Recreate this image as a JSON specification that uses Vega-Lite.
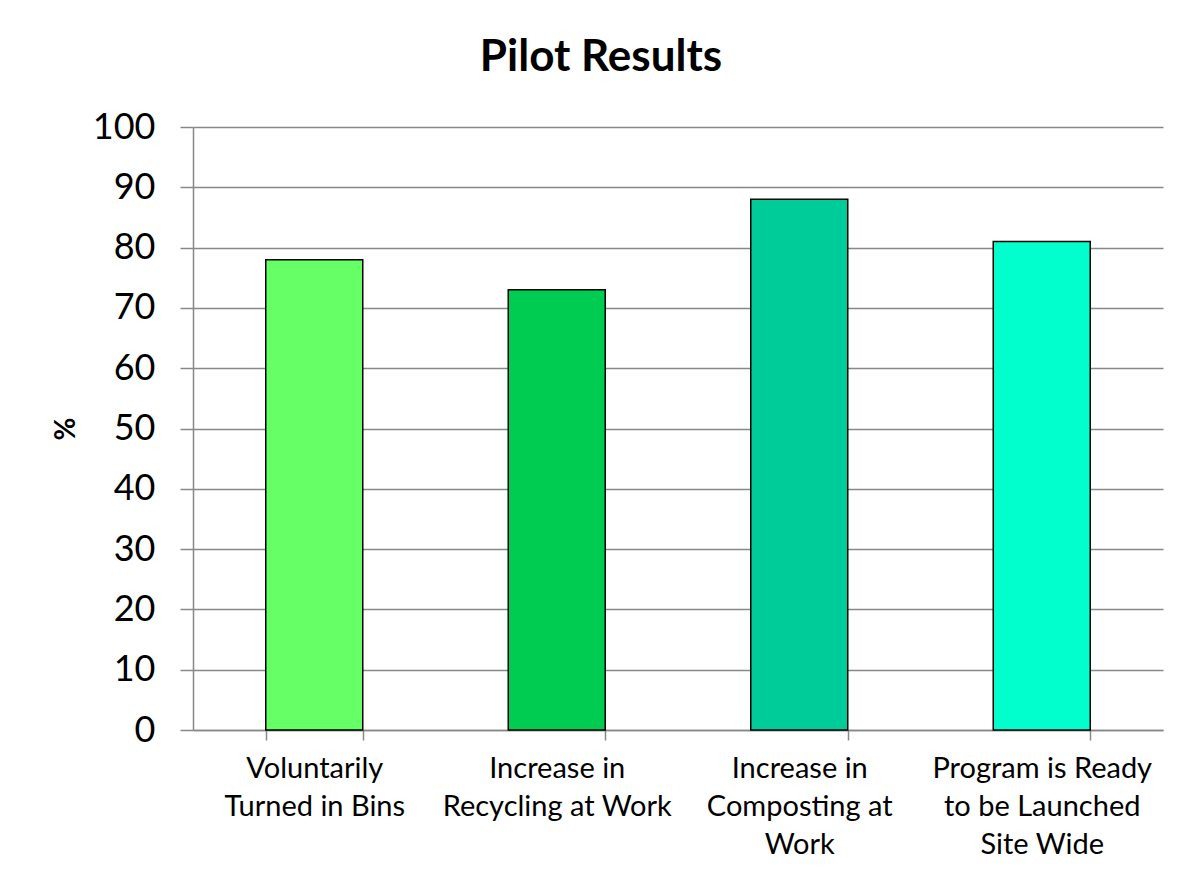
{
  "$schema": "https://vega.github.io/schema/vega-lite/v6.json",
  "autosize": {"type": "none"},
  "padding": {"left": 193, "top": 127, "right": 15, "bottom": 152},
  "width": 970,
  "height": 603,
  "background": "white",
  "title": {
    "text": "Pilot Results",
    "font": "Lato",
    "fontSize": 44,
    "fontWeight": "bold",
    "color": "black",
    "anchor": "middle",
    "frame": "group",
    "dx": -77,
    "dy": 6,
    "baseline": "alphabetic",
    "offset": 0
  },
  "data": {
    "values": [
      {"measure": "Voluntarily Turned in Bins", "percent": 78, "color": "#66FF66"},
      {"measure": "Increase in Recycling at Work", "percent": 73, "color": "#00CC52"},
      {"measure": "Increase in Composting at Work", "percent": 88, "color": "#00CC99"},
      {"measure": "Program is Ready to be Launched Site Wide", "percent": 81, "color": "#00FFCC"}
    ]
  },
  "mark": {"type": "bar", "stroke": "black", "strokeWidth": 1.5},
  "encoding": {
    "x": {
      "field": "measure",
      "type": "nominal",
      "sort": null,
      "scale": {"paddingInner": 0.6, "paddingOuter": 0.3},
      "axis": {
        "title": null,
        "labelAngle": 0,
        "tickBand": "extent",
        "tickSize": 10,
        "tickColor": "#888888",
        "tickWidth": 1.5,
        "domainColor": "#888888",
        "domainWidth": 1.5,
        "labelFont": "Lato",
        "labelFontSize": 29,
        "labelColor": "black",
        "labelLineHeight": 38,
        "labelPadding": 14,
        "labelLimit": 300,
        "labelExpr": "datum.value == 'Voluntarily Turned in Bins' ? ['Voluntarily', 'Turned in Bins'] : datum.value == 'Increase in Recycling at Work' ? ['Increase in', 'Recycling at Work'] : datum.value == 'Increase in Composting at Work' ? ['Increase in', 'Composting at', 'Work'] : datum.value == 'Program is Ready to be Launched Site Wide' ? ['Program is Ready', 'to be Launched', 'Site Wide'] : ''"
      }
    },
    "y": {
      "field": "percent",
      "type": "quantitative",
      "scale": {"domain": [0, 100]},
      "axis": {
        "title": "%",
        "titleFont": "Lato",
        "titleFontSize": 28,
        "titleFontWeight": "bold",
        "titleColor": "black",
        "titlePadding": 12,
        "values": [0, 10, 20, 30, 40, 50, 60, 70, 80, 90, 100],
        "tickSize": 13,
        "tickColor": "#888888",
        "tickWidth": 1.5,
        "domainColor": "#888888",
        "domainWidth": 1.5,
        "gridColor": "#888888",
        "gridWidth": 1.5,
        "labelFont": "Lato",
        "labelFontSize": 36,
        "labelColor": "black",
        "labelPadding": 25
      }
    },
    "fill": {"field": "color", "type": "nominal", "scale": null, "legend": null}
  },
  "config": {"view": {"stroke": null}, "axis": {"grid": true}, "axisX": {"grid": false}}
}
